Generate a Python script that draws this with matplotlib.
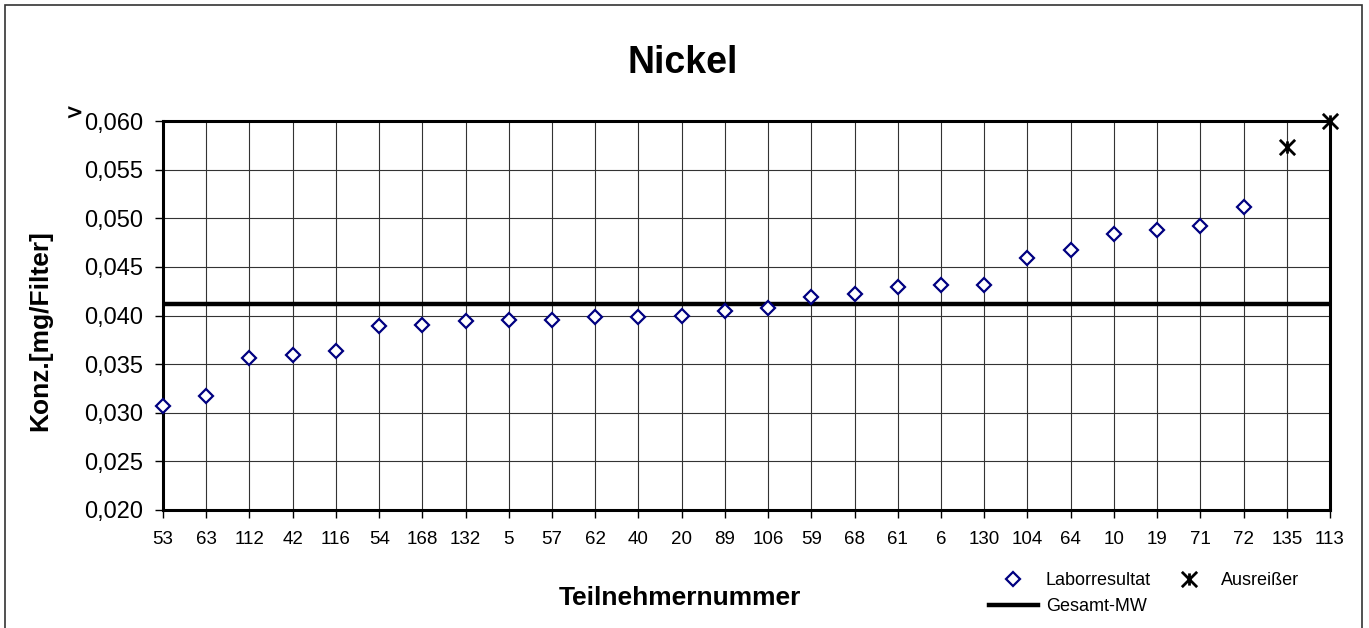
"""
Nickel - Laborresultate je Teilnehmer mit Gesamt-Mittelwert.
-> schreibt out.png
"""
import matplotlib
matplotlib.use("Agg")
import matplotlib.pyplot as plt
from matplotlib.path import Path
from matplotlib.patches import Rectangle
from matplotlib.lines import Line2D
from matplotlib.ticker import FuncFormatter, MultipleLocator

plt.rcParams["font.family"] = ["Liberation Sans", "DejaVu Sans"]

# =============================================================================
# DATEN
# =============================================================================
TEILNEHMER = ["53", "63", "112", "42", "116", "54", "168", "132", "5", "57",
              "62", "40", "20", "89", "106", "59", "68", "61", "6", "130",
              "104", "64", "10", "19", "71", "72", "135", "113"]

LABOR_WERTE = [0.0307, 0.0317, 0.0356, 0.0359, 0.0364, 0.0389, 0.0390,
               0.0394, 0.0395, 0.0395, 0.0398, 0.0398, 0.0400, 0.0405,
               0.0408, 0.0419, 0.0422, 0.0429, 0.0431, 0.0431, 0.0459,
               0.0467, 0.0484, 0.0488, 0.0492, 0.0512]

AUSREISSER_TN = ["135", "113"]
AUSREISSER_WERTE = [0.0573, 0.0600]   # 113 liegt über der Skala (">")

GESAMT_MW = 0.0412

# Asterisk wie in Excel: X mit kurzem senkrechten Strich
STERN = Path([(-1, -1), (1, 1), (-1, 1), (1, -1), (0, -0.8), (0, 0.8)],
             [Path.MOVETO, Path.LINETO, Path.MOVETO, Path.LINETO,
              Path.MOVETO, Path.LINETO])


def main():
    fig = plt.figure(figsize=(13.69, 6.28), dpi=100)
    ax = fig.add_axes([0.1191, 0.1879, 0.9715 - 0.1191, 0.8073 - 0.1879])

    # Rahmen um die ganze Grafik (unten abgeschnitten)
    fig.patches.append(Rectangle((5 / 1369, -0.05), 1357 / 1369,
                                 1 - 5 / 628 + 0.05,
                                 transform=fig.transFigure, fill=False,
                                 edgecolor="#333333", linewidth=1.2))

    x_labor = [TEILNEHMER.index(t) for t in TEILNEHMER[:len(LABOR_WERTE)]]
    x_aus = [TEILNEHMER.index(t) for t in AUSREISSER_TN]

    ax.axhline(GESAMT_MW, color="black", linewidth=3.2, zorder=3)
    ax.plot(x_labor, LABOR_WERTE, linestyle="none", marker="D",
            markersize=7.5, markerfacecolor="white", markeredgecolor="#000080",
            markeredgewidth=1.6, zorder=4, clip_on=False)
    ax.plot(x_aus, AUSREISSER_WERTE, linestyle="none", marker=STERN,
            markersize=11, markeredgecolor="black", markeredgewidth=2.0,
            zorder=5, clip_on=False)

    ax.set_xlim(0, len(TEILNEHMER) - 1)
    ax.set_ylim(0.020, 0.060)
    ax.set_xticks(range(len(TEILNEHMER)))
    ax.set_xticklabels(TEILNEHMER, fontsize=13.5)
    ax.yaxis.set_major_locator(MultipleLocator(0.005))
    ax.yaxis.set_major_formatter(
        FuncFormatter(lambda v, pos: f"{v:.3f}".replace(".", ",")))
    ax.tick_params(axis="y", labelsize=17, length=6, width=1, pad=8)
    ax.tick_params(axis="x", length=6, width=1, pad=9)

    ax.grid(True, color="#333333", linewidth=0.8)
    ax.set_axisbelow(True)
    for sp in ax.spines.values():
        sp.set_linewidth(2.2)
        sp.set_color("black")

    fig.text(40 / 1369, 1 - 331 / 628, "Konz.[mg/Filter]", fontsize=19,
             fontweight="bold", rotation=90, ha="center", va="center")
    fig.text(680 / 1369, 1 - 598 / 628, "Teilnehmernummer", fontsize=19,
             fontweight="bold", ha="center", va="center")
    fig.text(683 / 1369, 1 - 63 / 628, "Nickel", fontsize=27,
             fontweight="bold", ha="center", va="center")
    fig.text(74 / 1369, 1 - 114 / 628, ">", fontsize=15, fontweight="bold",
             family=["DejaVu Sans"], rotation=0, ha="center", va="center")

    handles = [
        Line2D([], [], linestyle="none", marker="D", markersize=7.5,
               markerfacecolor="white", markeredgecolor="#000080",
               markeredgewidth=1.6),
        Line2D([], [], color="black", linewidth=3.2),
        Line2D([], [], linestyle="none", marker=STERN, markersize=11,
               markeredgecolor="black", markeredgewidth=2.0),
    ]
    fig.legend(handles, ["Laborresultat", "Gesamt-MW", "Ausreißer"], ncol=2,
               loc="upper left", bbox_to_anchor=(980 / 1369, 1 - 563 / 628),
               frameon=False, fontsize=13, borderpad=0, handlelength=2.7,
               handletextpad=0.45, columnspacing=0.75, labelspacing=0.5)

    fig.savefig("out.png", dpi=100)


if __name__ == "__main__":
    main()
